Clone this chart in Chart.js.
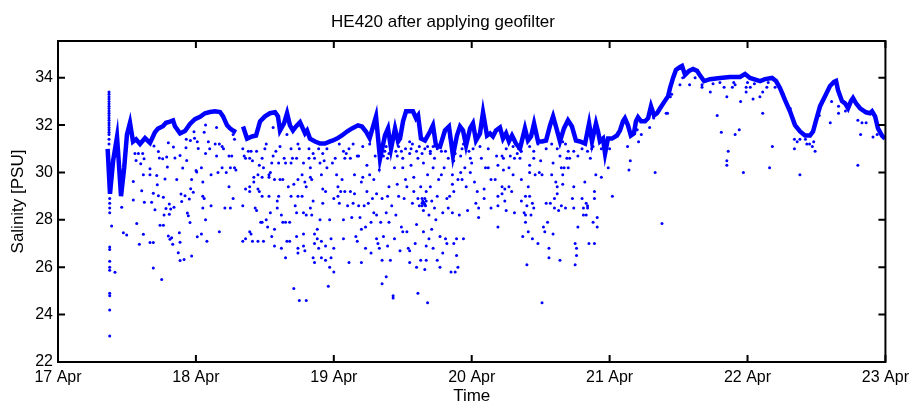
<!DOCTYPE html>
<html>
<head>
<meta charset="utf-8">
<script src="https://cdn.jsdelivr.net/npm/chart.js@4.4.1/dist/chart.umd.min.js"></script>
<style>
  html, body { margin: 0; padding: 0; background: #fff; }
  #wrap { width: 915px; height: 405px; }
</style>
</head>
<body>
<div id="wrap"><canvas id="grafico" width="915" height="405"></canvas></div>
<script>
// Asse x: giorni dal 17 Apr 00:00 (0..6)
const dayLabels = ['17 Apr', '18 Apr', '19 Apr', '20 Apr', '21 Apr', '22 Apr', '23 Apr'];
const xTicks = [0, 1, 2, 3, 4, 5, 6];
const yTicks = [22, 24, 26, 28, 30, 32, 34];

// Inviluppo superiore (traccia densa), [giorno, salinita]; null = interruzione
const upperTrace = [
  [0.36, 31.0], [0.377, 29.1], [0.40, 30.5], [0.428, 31.5], [0.44, 30.5], [0.457, 29.0],
  [0.48, 30.2], [0.50, 31.6], [0.522, 32.1], [0.544, 31.3], [0.566, 31.4], [0.595, 31.2],
  [0.631, 31.45], [0.667, 31.25], [0.703, 31.7], [0.725, 31.85], [0.761, 31.95], [0.783, 32.1],
  [0.812, 32.15], [0.834, 32.2], [0.848, 31.95], [0.885, 31.65], [0.921, 31.75], [0.957, 32.05],
  [0.993, 32.25], [1.030, 32.35], [1.066, 32.5], [1.102, 32.55], [1.138, 32.58], [1.175, 32.55],
  [1.197, 32.37], [1.226, 31.99], [1.247, 31.86], [1.269, 31.77], [1.291, 31.7],
  [1.31, null],
  [1.342, 31.94], [1.371, 31.43], [1.407, 31.52], [1.436, 31.56], [1.465, 32.16], [1.501, 32.37],
  [1.537, 32.5], [1.574, 32.54], [1.595, 32.37], [1.610, 31.77], [1.639, 32.07], [1.661, 32.5],
  [1.682, 31.99], [1.704, 31.77], [1.726, 31.94], [1.755, 32.12], [1.769, 31.94], [1.791, 31.65],
  [1.806, 31.77], [1.827, 31.43], [1.864, 31.31], [1.900, 31.22], [1.936, 31.22], [1.973, 31.31],
  [1.994, 31.35], [2.023, 31.43], [2.059, 31.56], [2.096, 31.73], [2.132, 31.86], [2.175, 31.99],
  [2.204, 31.94], [2.233, 31.73], [2.26, 31.45], [2.306, 32.37], [2.335, 30.58], [2.371, 31.56],
  [2.393, 31.86], [2.415, 31.01], [2.444, 31.86], [2.466, 31.31], [2.480, 31.43], [2.502, 32.16],
  [2.524, 32.58], [2.574, 32.58], [2.596, 32.29], [2.611, 32.41], [2.632, 31.43], [2.661, 31.35],
  [2.698, 31.73], [2.719, 31.99], [2.741, 31.14], [2.770, 31.09], [2.806, 31.77], [2.835, 31.94],
  [2.864, 30.71], [2.893, 31.56], [2.915, 31.94], [2.937, 31.77], [2.959, 31.14], [2.988, 31.86],
  [3.009, 32.07], [3.031, 31.35], [3.060, 31.65], [3.082, 32.54], [3.111, 31.56], [3.133, 31.65],
  [3.154, 31.52], [3.176, 31.77], [3.205, 31.9], [3.227, 31.43], [3.249, 31.65], [3.270, 31.31],
  [3.292, 31.56], [3.321, 31.22], [3.350, 31.01], [3.386, 31.86], [3.408, 31.35], [3.430, 31.52],
  [3.452, 32.07], [3.481, 31.31], [3.510, 31.31], [3.539, 31.35], [3.568, 31.99], [3.590, 32.37],
  [3.611, 31.94], [3.640, 31.31], [3.669, 31.86], [3.698, 32.2], [3.727, 31.94], [3.756, 31.35],
  [3.785, 31.31], [3.822, 31.22], [3.851, 32.07], [3.872, 31.31], [3.901, 32.07], [3.916, 31.73],
  [3.930, 31.31], [3.952, 31.43], [3.967, 30.8], [3.988, 31.43], [4.017, 31.43], [4.053, 31.56],
  [4.075, 31.77], [4.097, 32.16], [4.111, 32.29], [4.133, 31.99], [4.154, 31.56], [4.176, 31.65],
  [4.191, 32.16], [4.206, 32.33], [4.228, 32.16], [4.257, 32.16], [4.279, 32.29], [4.300, 32.8],
  [4.322, 32.41], [4.344, 32.5], [4.366, 32.71], [4.395, 32.97], [4.424, 33.22], [4.438, 33.56],
  [4.460, 33.99], [4.481, 34.33], [4.511, 34.46], [4.525, 34.5], [4.547, 34.12], [4.576, 34.29],
  [4.605, 34.37], [4.634, 34.29], [4.655, 34.1], [4.685, 33.86], [4.728, 33.94], [4.801, 33.99],
  [4.873, 34.03], [4.946, 34.03], [4.982, 34.16], [5.018, 33.99], [5.091, 33.86], [5.127, 33.94],
  [5.178, 33.99], [5.207, 33.86], [5.236, 33.56], [5.272, 33.05], [5.308, 32.58], [5.344, 32.0],
  [5.381, 31.73], [5.417, 31.56], [5.453, 31.56], [5.475, 31.73], [5.497, 32.2], [5.526, 32.8],
  [5.562, 33.22], [5.598, 33.65], [5.627, 33.82], [5.642, 33.86], [5.656, 33.48], [5.685, 33.01],
  [5.707, 32.92], [5.729, 32.71], [5.750, 33.01], [5.765, 33.14], [5.787, 32.92], [5.816, 32.71],
  [5.859, 32.54], [5.888, 32.5], [5.903, 32.58], [5.925, 32.37], [5.946, 31.86], [5.975, 31.56],
  [5.997, 31.43]
];

// Punti sparsi, divisi per giorno
const dots17 = [
  [0.37, 33.4], [0.37, 33.3], [0.37, 33.2], [0.37, 33.1], [0.37, 33.0], [0.37, 32.9], [0.37, 32.8],
  [0.37, 32.7], [0.37, 32.6], [0.37, 32.5], [0.37, 32.4], [0.37, 32.3], [0.37, 32.2], [0.37, 32.1],
  [0.37, 32.0], [0.37, 31.9], [0.37, 31.8], [0.37, 31.7], [0.37, 31.6], [0.37, 31.4], [0.37, 31.2],
  [0.375, 28.9], [0.375, 28.7], [0.375, 28.5], [0.375, 28.3], [0.375, 26.85], [0.375, 26.75],
  [0.375, 26.25], [0.375, 26.0], [0.375, 25.87], [0.375, 24.9], [0.375, 24.8], [0.375, 24.2], [0.375, 23.1],
  [0.389, 27.74], [0.413, 25.79], [0.462, 28.53], [0.474, 27.46], [0.498, 27.36], [0.546, 29.62],
  [0.546, 28.84], [0.558, 30.8], [0.566, 30.51], [0.571, 27.85], [0.583, 30.8], [0.590, 26.97],
  [0.600, 30.37], [0.607, 29.23], [0.614, 30.8], [0.619, 27.39], [0.624, 30.58], [0.626, 28.74],
  [0.619, 29.9], [0.667, 27.04], [0.667, 30.16], [0.667, 29.9], [0.679, 28.74], [0.691, 29.12],
  [0.691, 27.04], [0.691, 25.97], [0.696, 31.12], [0.703, 28.43], [0.716, 29.87], [0.720, 29.48],
  [0.728, 29.02], [0.728, 30.89], [0.735, 30.61], [0.740, 27.77], [0.752, 25.48], [0.759, 30.58],
  [0.764, 27.77], [0.764, 28.95], [0.769, 28.2], [0.776, 29.73], [0.783, 28.48], [0.788, 30.65],
  [0.793, 30.23], [0.800, 27.32], [0.800, 31.26], [0.807, 28.67], [0.807, 28.24], [0.812, 27.18],
  [0.817, 28.46], [0.824, 27.25], [0.832, 26.97], [0.837, 31.08], [0.841, 28.53], [0.848, 30.61],
  [0.861, 29.7], [0.872, 26.61], [0.880, 27.46], [0.885, 30.72], [0.885, 27.06], [0.885, 26.28],
  [0.892, 29.09], [0.897, 28.77], [0.904, 30.19], [0.914, 26.33], [0.921, 29.02], [0.928, 31.04],
  [0.933, 30.51], [0.938, 28.29], [0.945, 28.17], [0.952, 28.88], [0.957, 27.89], [0.962, 29.31],
  [0.969, 29.7], [0.969, 26.47], [0.981, 29.17], [0.986, 31.72], [0.93, 31.4], [0.96, 31.35], [0.99, 31.45]
];

const dots18 = [
  [1.001, 30.08], [1.006, 30.02], [1.010, 27.29], [1.017, 31.01], [1.01, 31.3],
  [1.06, 31.7], [1.07, 32.0], [1.04, 30.2], [1.05, 29.6], [1.05, 29.0], [1.06, 28.9], [1.05, 28.5],
  [1.07, 28.0], [1.04, 27.4], [1.08, 27.1], [1.07, 30.8], [1.09, 31.3], [1.10, 31.0], [1.11, 29.9],
  [1.11, 28.6], [1.14, 31.2], [1.15, 31.9], [1.15, 30.7], [1.16, 30.0], [1.17, 27.5], [1.17, 31.2],
  [1.19, 31.1], [1.19, 30.2], [1.20, 31.0], [1.21, 28.5], [1.22, 30.0], [1.24, 30.7], [1.24, 29.4],
  [1.25, 28.5], [1.25, 30.2], [1.26, 30.7], [1.27, 28.9], [1.27, 31.6], [1.28, 31.4], [1.28, 30.2],
  [1.29, 30.1], [1.34, 31.0], [1.34, 28.6], [1.35, 30.7], [1.36, 30.6], [1.34, 27.1], [1.36, 27.2],
  [1.36, 29.3], [1.38, 30.9], [1.39, 30.6], [1.39, 29.4], [1.39, 29.2], [1.39, 27.5], [1.40, 30.9],
  [1.40, 27.4], [1.41, 27.1], [1.41, 30.5], [1.42, 29.8], [1.42, 29.6], [1.43, 28.5], [1.44, 30.9],
  [1.44, 28.4], [1.45, 29.3], [1.45, 27.1], [1.45, 29.9], [1.46, 29.2], [1.46, 30.3], [1.47, 27.9],
  [1.48, 27.9], [1.48, 29.8], [1.48, 29.0], [1.48, 30.6], [1.49, 30.2], [1.49, 27.1], [1.50, 31.0],
  [1.51, 31.2], [1.51, 28.0], [1.52, 27.7], [1.53, 29.0], [1.53, 29.9], [1.53, 29.8], [1.54, 30.0],
  [1.54, 28.3], [1.55, 27.3], [1.55, 30.4], [1.56, 30.7], [1.56, 31.9], [1.57, 26.9], [1.57, 27.6],
  [1.57, 29.7], [1.58, 30.9], [1.59, 28.8], [1.59, 28.5], [1.60, 30.4], [1.60, 29.0], [1.61, 31.1],
  [1.61, 29.7], [1.62, 28.2], [1.62, 26.8], [1.63, 27.9], [1.63, 29.7], [1.64, 30.6], [1.65, 26.4],
  [1.65, 30.4], [1.65, 27.9], [1.66, 31.6], [1.66, 27.1], [1.67, 29.4], [1.68, 27.1], [1.68, 27.9],
  [1.69, 29.0], [1.69, 30.4], [1.69, 31.0], [1.70, 30.6], [1.71, 29.5], [1.71, 25.1], [1.72, 28.6],
  [1.73, 28.3], [1.73, 30.6], [1.73, 27.3], [1.74, 26.8], [1.74, 26.6], [1.74, 29.7], [1.75, 24.6],
  [1.74, 31.2], [1.74, 29.0], [1.80, 24.6],
  [1.75, 31.0], [1.78, 30.4], [1.77, 29.9], [1.79, 29.6], [1.80, 29.4], [1.77, 29.0], [1.78, 28.3],
  [1.80, 28.2], [1.78, 27.4], [1.78, 26.9], [1.79, 26.7], [1.82, 31.0], [1.82, 30.6],
  [1.83, 30.2], [1.83, 29.8], [1.84, 29.7], [1.83, 28.5], [1.84, 28.2], [1.85, 28.8], [1.85, 30.8],
  [1.86, 30.6], [1.86, 27.4], [1.86, 27.0], [1.85, 26.4], [1.86, 26.2], [1.88, 27.2], [1.88, 27.6],
  [1.89, 26.8], [1.89, 31.0], [1.90, 30.4], [1.90, 28.0], [1.91, 29.9], [1.91, 26.4], [1.91, 27.1],
  [1.92, 29.3], [1.92, 30.8], [1.92, 28.7], [1.93, 30.5], [1.94, 29.2], [1.94, 26.9], [1.94, 26.3],
  [1.95, 30.2], [1.95, 31.0], [1.96, 25.2], [1.97, 28.0], [1.97, 26.0], [1.98, 27.2], [1.98, 26.4],
  [1.99, 30.4]
];

const dots19 = [
  [2.00, 28.9], [2.00, 26.8], [2.00, 25.8], [2.01, 30.6], [2.02, 29.9], [2.03, 29.0], [2.03, 29.4],
  [2.04, 31.2], [2.04, 28.7], [2.05, 29.2], [2.06, 29.7], [2.07, 28.0], [2.07, 27.2], [2.07, 30.9],
  [2.08, 30.6], [2.08, 29.2], [2.09, 30.8], [2.10, 28.6], [2.11, 31.0], [2.11, 26.2], [2.12, 30.6],
  [2.12, 29.2], [2.13, 28.1], [2.14, 28.7], [2.14, 31.2], [2.15, 29.9], [2.15, 29.1], [2.16, 27.3],
  [2.17, 30.7], [2.17, 27.1], [2.18, 28.6], [2.18, 30.7], [2.19, 28.1], [2.20, 29.6], [2.20, 27.6],
  [2.20, 26.2], [2.21, 29.8], [2.21, 31.1], [2.22, 28.6], [2.23, 27.7], [2.23, 26.8], [2.24, 30.3],
  [2.24, 29.2], [2.25, 28.7], [2.26, 31.2], [2.26, 29.9], [2.27, 27.9], [2.27, 26.6], [2.28, 28.9],
  [2.29, 28.3], [2.29, 29.7], [2.30, 30.7], [2.31, 27.2], [2.31, 29.1], [2.31, 28.2], [2.32, 27.0],
  [2.33, 30.1], [2.33, 26.8], [2.34, 27.9], [2.35, 26.3], [2.35, 25.3], [2.35, 28.9], [2.36, 30.7],
  [2.36, 27.3], [2.37, 30.9], [2.38, 28.3], [2.38, 25.6], [2.39, 29.0], [2.39, 30.6], [2.39, 26.9],
  [2.40, 27.9], [2.40, 29.4], [2.41, 26.3], [2.42, 28.6], [2.43, 24.8], [2.43, 24.7], [2.44, 27.2],
  [2.44, 30.2], [2.45, 28.2], [2.46, 30.7], [2.46, 29.5], [2.47, 29.0], [2.48, 26.7], [2.35, 30.9],
  [2.38, 31.1], [2.40, 30.8], [2.42, 31.0], [2.45, 30.9], [2.47, 31.1],
  [2.49, 30.9], [2.50, 30.6], [2.50, 30.2], [2.52, 29.7], [2.51, 28.9], [2.49, 27.7], [2.50, 27.5],
  [2.53, 29.4], [2.53, 27.5], [2.54, 26.8], [2.55, 26.7], [2.55, 26.2], [2.55, 31.3], [2.56, 31.0],
  [2.56, 30.3], [2.57, 28.7], [2.58, 29.2], [2.58, 29.8], [2.59, 27.0], [2.60, 26.0], [2.60, 27.8],
  [2.61, 30.6], [2.61, 24.9], [2.61, 28.9], [2.62, 28.6], [2.63, 29.4], [2.63, 26.3], [2.64, 28.9],
  [2.64, 28.7], [2.64, 28.6], [2.65, 30.4], [2.65, 28.4], [2.65, 27.5], [2.66, 25.9], [2.67, 26.9],
  [2.67, 29.2], [2.67, 26.3], [2.68, 29.9], [2.68, 24.5], [2.69, 28.2], [2.69, 27.2], [2.70, 30.9],
  [2.70, 29.4], [2.71, 27.6], [2.71, 28.8], [2.72, 26.8], [2.72, 30.2], [2.72, 31.1], [2.73, 28.5],
  [2.73, 30.6], [2.74, 28.0], [2.75, 29.0], [2.75, 26.3], [2.76, 29.7], [2.77, 26.0], [2.77, 27.3],
  [2.78, 29.9], [2.79, 26.6], [2.79, 28.3], [2.80, 30.2], [2.81, 27.2], [2.81, 30.9], [2.82, 27.0],
  [2.82, 28.9], [2.83, 28.5], [2.84, 31.5], [2.84, 29.0], [2.85, 25.8], [2.86, 28.3], [2.86, 29.9],
  [2.86, 29.5], [2.87, 29.2], [2.87, 30.5], [2.87, 27.0], [2.88, 25.8], [2.89, 27.2], [2.89, 26.5],
  [2.90, 26.0], [2.90, 29.7], [2.91, 28.2], [2.92, 30.7], [2.92, 30.0], [2.93, 29.7], [2.94, 31.2],
  [2.94, 27.2], [2.95, 30.2], [2.96, 29.4], [2.97, 28.4], [2.98, 30.9], [2.99, 30.0], [2.99, 30.6],
  [2.645, 28.8], [2.655, 28.7], [2.66, 28.9], [2.665, 28.6], [2.65, 28.75], [2.67, 28.8], [2.66, 28.65],
  [2.52, 31.0], [2.55, 30.8], [2.57, 31.2], [2.60, 30.9], [2.62, 31.1], [2.64, 30.8], [2.66, 31.0],
  [2.68, 31.1], [2.70, 30.8], [2.75, 31.0], [2.78, 30.9], [2.83, 30.6], [2.88, 30.8], [2.93, 31.0]
];

const dots20 = [
  [3.00, 30.4], [3.01, 31.0], [3.02, 29.6], [3.03, 28.7], [3.04, 29.2], [3.05, 28.5], [3.05, 28.1],
  [3.06, 31.1], [3.07, 30.6], [3.09, 29.3], [3.09, 28.9], [3.10, 30.2], [3.12, 31.0], [3.12, 30.2],
  [3.14, 29.7], [3.14, 28.5], [3.17, 29.7], [3.18, 30.7], [3.19, 30.3], [3.19, 29.0], [3.19, 28.6],
  [3.19, 27.7], [3.22, 30.7], [3.23, 30.6], [3.23, 30.1], [3.22, 29.4], [3.22, 29.1], [3.24, 29.3],
  [3.24, 28.8], [3.25, 28.4], [3.27, 29.4], [3.27, 30.2], [3.28, 30.7], [3.29, 29.2], [3.30, 29.9],
  [3.31, 28.3], [3.31, 30.6], [3.33, 30.8], [3.34, 31.0], [3.35, 30.6], [3.36, 29.7], [3.36, 28.8],
  [3.37, 27.3], [3.38, 28.3], [3.39, 28.2], [3.39, 27.9], [3.39, 29.0], [3.40, 28.6], [3.40, 26.1],
  [3.41, 29.4], [3.41, 27.5], [3.42, 30.0], [3.42, 29.0], [3.42, 30.3], [3.43, 28.2], [3.44, 28.7],
  [3.44, 27.2], [3.45, 30.6], [3.45, 28.5], [3.46, 29.9], [3.48, 27.0], [3.49, 30.0], [3.50, 30.5],
  [3.51, 29.9], [3.51, 24.5], [3.52, 27.7], [3.53, 27.5], [3.54, 28.7], [3.55, 27.9], [3.56, 26.8],
  [3.56, 26.4], [3.57, 28.7], [3.58, 29.9], [3.59, 30.4], [3.59, 27.4], [3.60, 28.5], [3.60, 28.9],
  [3.61, 29.6], [3.62, 29.4], [3.62, 29.1], [3.63, 28.4], [3.64, 30.7], [3.64, 26.3], [3.65, 30.2],
  [3.65, 28.6], [3.66, 29.9], [3.66, 29.5], [3.67, 30.2], [3.68, 28.5], [3.68, 31.2], [3.69, 30.6],
  [3.70, 30.2], [3.71, 30.6], [3.73, 28.9], [3.74, 28.5], [3.74, 29.4], [3.75, 27.0], [3.76, 26.8],
  [3.76, 26.5], [3.75, 26.1], [3.77, 30.7], [3.77, 27.7], [3.80, 28.9], [3.81, 28.5], [3.81, 28.2],
  [3.82, 29.6], [3.83, 28.7], [3.83, 28.2], [3.84, 28.6], [3.84, 28.5], [3.85, 27.0], [3.86, 30.6],
  [3.87, 31.0], [3.88, 27.9], [3.89, 29.2], [3.89, 28.9], [3.89, 27.0], [3.90, 29.9], [3.91, 28.1],
  [3.91, 27.7], [3.94, 29.8], [3.99, 30.2],
  [3.25, 31.0], [3.30, 31.1], [3.36, 30.9], [3.42, 31.1], [3.45, 30.9], [3.48, 31.2], [3.54, 31.0],
  [3.58, 31.2], [3.62, 31.0], [3.66, 31.3], [3.70, 30.9], [3.74, 30.9], [3.80, 31.0], [3.84, 30.9],
  [3.88, 31.1], [3.94, 31.0], [3.97, 30.8]
];

const dots21 = [
  [4.00, 31.0], [4.02, 29.0], [4.13, 31.1], [4.14, 30.1], [4.15, 30.5], [4.21, 31.3], [4.23, 31.6],
  [4.20, 31.8], [4.29, 31.9], [4.33, 30.0], [4.38, 27.85], [4.32, 32.3], [4.41, 32.5], [4.42, 32.5],
  [4.44, 33.2], [4.45, 33.3], [4.51, 33.7], [4.53, 34.0], [4.58, 33.7], [4.62, 34.0], [4.67, 33.7],
  [4.67, 33.6], [4.73, 33.4], [4.78, 32.4], [4.81, 31.7], [4.83, 33.6], [4.85, 33.2], [4.86, 30.9],
  [4.85, 30.5], [4.85, 30.3], [4.89, 33.6], [4.91, 33.7], [4.91, 31.6], [4.94, 31.8], [4.95, 33.0],
  [4.97, 30.0], [4.99, 33.4], [4.99, 33.6], [4.75, 33.75], [4.8, 33.8], [4.9, 33.8]
];

const dots22 = [
  [5.0, 33.8], [5.05, 33.75], [5.15, 33.8],
  [5.02, 33.6], [5.04, 33.1], [5.09, 33.2], [5.11, 33.4], [5.11, 32.5], [5.14, 33.6], [5.16, 30.2],
  [5.18, 31.1], [5.20, 33.6], [5.26, 33.3], [5.31, 32.7], [5.34, 31.4], [5.34, 31.0], [5.36, 31.3],
  [5.38, 29.9], [5.38, 31.4], [5.42, 31.4], [5.43, 31.2], [5.45, 31.2], [5.47, 31.1], [5.48, 31.3],
  [5.49, 30.9], [5.52, 32.4], [5.60, 32.1], [5.61, 33.0], [5.66, 32.8], [5.66, 32.5], [5.71, 32.6],
  [5.80, 30.3], [5.80, 32.2], [5.82, 31.6], [5.83, 32.1], [5.86, 32.1], [5.91, 31.5], [5.94, 31.6]
];

const BLU = '#0000ff';
const FONT = "'Liberation Sans', Arial, sans-serif";

const toXY = arr => arr.map(p => ({ x: p[0], y: p[1] }));
const tuttiPunti = [].concat(dots17, dots18, dots19, dots20, dots21, dots22);

// Riquadro stile MATLAB con tacche verso l'interno su tutti i lati
const boxMatlab = {
  id: 'boxMatlab',
  afterDatasetsDraw(chart) {
    const { ctx, chartArea: a, scales: { x, y } } = chart;
    const len = 7;
    ctx.save();
    ctx.strokeStyle = '#000';
    ctx.lineWidth = 2;
    ctx.beginPath();
    x.ticks.forEach(t => {
      const px = x.getPixelForValue(t.value);
      ctx.moveTo(px, a.bottom); ctx.lineTo(px, a.bottom - len);
      ctx.moveTo(px, a.top); ctx.lineTo(px, a.top + len);
    });
    y.ticks.forEach(t => {
      const py = y.getPixelForValue(t.value);
      ctx.moveTo(a.left, py); ctx.lineTo(a.left + len, py);
      ctx.moveTo(a.right, py); ctx.lineTo(a.right - len, py);
    });
    ctx.stroke();
    ctx.strokeRect(a.left, a.top, a.right - a.left, a.bottom - a.top);
    ctx.restore();
  }
};

new Chart(document.getElementById('grafico'), {
  type: 'scatter',
  data: {
    datasets: [
      {
        data: toXY(upperTrace),
        showLine: true,
        spanGaps: false,
        borderColor: BLU,
        borderWidth: 4.5,
        pointRadius: 0,
        tension: 0
      },
      {
        data: toXY(tuttiPunti),
        showLine: false,
        pointRadius: 1.5,
        pointBorderWidth: 0,
        backgroundColor: BLU,
        borderColor: BLU
      }
    ]
  },
  options: {
    responsive: false,
    animation: false,
    devicePixelRatio: 1,
    layout: { padding: { left: 0, right: 29, top: 0, bottom: 0 } },
    plugins: {
      legend: { display: false },
      tooltip: { enabled: false },
      title: {
        display: true,
        text: 'HE420 after applying geofilter',
        color: '#000',
        font: { family: FONT, size: 17, weight: 'normal', lineHeight: 1 },
        padding: { top: 14, bottom: 10 }
      }
    },
    scales: {
      x: {
        type: 'linear',
        min: 0,
        max: 6,
        afterBuildTicks: s => { s.ticks = xTicks.map(v => ({ value: v })); },
        afterFit: s => { s.height = 43; },
        grid: { display: false, drawTicks: false },
        border: { display: false },
        ticks: {
          color: '#000',
          font: { family: FONT, size: 16 },
          padding: 6,
          maxRotation: 0,
          autoSkip: false,
          callback: v => dayLabels[v]
        },
        title: {
          display: true,
          text: 'Time',
          color: '#000',
          font: { family: FONT, size: 17, lineHeight: 1 },
          padding: { top: 0, bottom: 0 }
        }
      },
      y: {
        type: 'linear',
        min: 22,
        max: 35.55,
        afterBuildTicks: s => { s.ticks = yTicks.map(v => ({ value: v })); },
        afterFit: s => { s.width = 58; },
        grid: { display: false, drawTicks: false },
        border: { display: false },
        ticks: {
          color: '#000',
          font: { family: FONT, size: 16 },
          padding: 5,
          callback: v => String(v)
        },
        title: {
          display: true,
          text: 'Salinity [PSU]',
          color: '#000',
          font: { family: FONT, size: 17, lineHeight: 1 },
          padding: { top: 10, bottom: 0 }
        }
      }
    }
  },
  plugins: [boxMatlab]
});
</script>
</body>
</html>
